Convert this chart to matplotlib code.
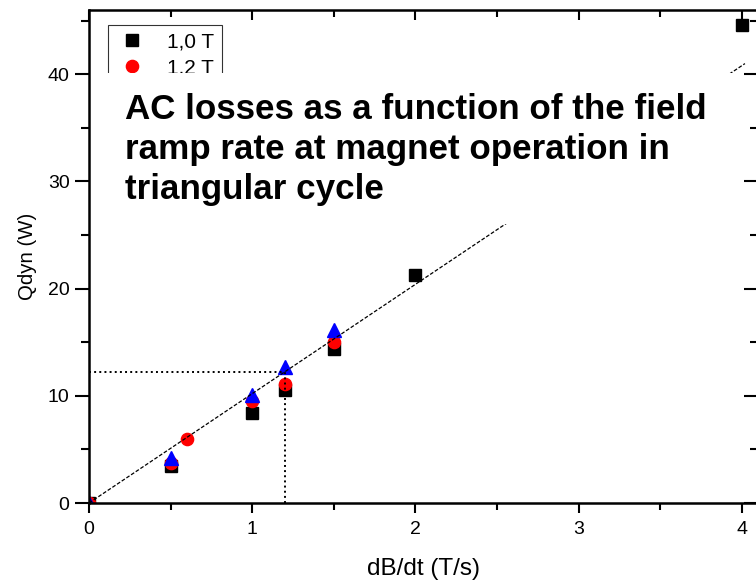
import matplotlib
matplotlib.use("Agg")
import matplotlib.pyplot as plt
from matplotlib.patches import Rectangle
from matplotlib.ticker import MultipleLocator

plt.rcParams['font.family'] = ['Liberation Sans', 'DejaVu Sans']

# Data
x_10 = [0.0, 0.5, 1.0, 1.2, 1.5, 2.0, 4.0]
q_10 = [0.0, 3.45, 8.4, 10.5, 14.4, 21.3, 44.6]

x_12 = [0.0, 0.5, 0.6, 1.0, 1.2, 1.5]
q_12 = [0.0, 3.7, 5.95, 9.5, 11.1, 15.05]

x_15 = [0.0, 0.5, 1.0, 1.2, 1.5]
q_15 = [0.0, 4.2, 10.1, 12.7, 16.1]

fit_x = [0.0, 4.02]
fit_y = [0.0, 41.0]

mark_x = 1.2
mark_y = 12.2

labels = ["1,0 T", "1,2 T", "1,5 T"]
title_text = "AC losses as a function of the field\nramp rate at magnet operation in\ntriangular cycle"

fig = plt.figure(figsize=(7.56, 5.81), dpi=100)
ax = fig.add_axes([89/756, 78/581, (758-89)/756, (503-10)/581])
ax.set_xlim(0, 4.1)
ax.set_ylim(0, 46)

ax.plot(x_10, q_10, linestyle='none', marker='s', color='black', markersize=8.3, label=labels[0])
ax.plot(x_12, q_12, linestyle='none', marker='o', color='red', markersize=8.8, label=labels[1])
ax.plot(x_15, q_15, linestyle='none', marker='^', color='blue', markersize=9.8, label=labels[2])

ax.plot(fit_x, fit_y, linestyle=(0, (3, 1.5)), color='black', linewidth=0.9, zorder=3)
ax.plot([0, mark_x], [mark_y, mark_y], linestyle=':', color='black', linewidth=1.4, zorder=3)
ax.plot([mark_x, mark_x], [0, mark_y], linestyle=':', color='black', linewidth=1.4, zorder=3)

leg = ax.legend(loc='upper left', bbox_to_anchor=(0.028, 0.97), borderaxespad=0,
                frameon=True, fancybox=False, edgecolor='black', fontsize=15,
                handletextpad=0.9, handlelength=1.6, borderpad=0.35, labelspacing=0.35)
leg.get_frame().set_linewidth(0.8)
leg.set_zorder(5)

# white box holding the title
ax.add_patch(Rectangle((0.037, 26.0), 4.0 - 0.037, 40.1 - 26.0, facecolor='white',
                       edgecolor='none', zorder=6))
ax.text(0.22, 38.3, title_text, fontsize=25.2, fontweight='bold', ha='left', va='top',
        zorder=7, linespacing=1.28)

for s in ax.spines.values():
    s.set_linewidth(1.8)

ax.xaxis.set_major_locator(MultipleLocator(1))
ax.xaxis.set_minor_locator(MultipleLocator(0.5))
ax.yaxis.set_major_locator(MultipleLocator(10))
ax.yaxis.set_minor_locator(MultipleLocator(5))

ax.tick_params(axis='x', which='major', direction='out', length=7, width=1.5, labelsize=14, pad=6,
               top=True)
ax.tick_params(axis='x', which='minor', direction='out', length=5, width=1.5, top=True)
ax.tick_params(axis='y', which='major', direction='out', length=10, width=1.5, labelsize=14, pad=4,
               right=True)
ax.tick_params(axis='y', which='minor', direction='out', length=6, width=1.5, right=True)
# top and right ticks point inward
for t in ax.xaxis.get_major_ticks() + ax.xaxis.get_minor_ticks():
    t.tick2line.set_marker(matplotlib.lines.TICKDOWN)
for t in ax.yaxis.get_major_ticks() + ax.yaxis.get_minor_ticks():
    t.tick2line.set_marker(matplotlib.lines.TICKLEFT)

ax.set_xlabel("dB/dt (T/s)", fontsize=17.5, va='center')
ax.set_ylabel("Qdyn (W)", fontsize=14.7, va='center')
ax.xaxis.set_label_coords((424-89)/669, (503-569)/493)
ax.yaxis.set_label_coords((27-89)/669, (503-256)/493)

fig.savefig("out.png", dpi=100)
